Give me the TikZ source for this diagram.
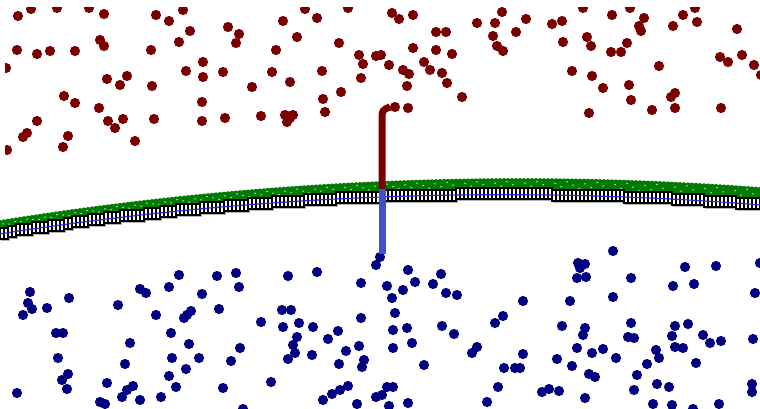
\documentclass[tikz,border=0pt]{standalone}
\usepackage{tikz}
\definecolor{ptred}{RGB}{122,0,0}
\definecolor{ptblue}{RGB}{0,0,128}
\definecolor{bandgreen}{RGB}{0,122,0}
\definecolor{vblue}{RGB}{64,80,208}
\definecolor{lineblue}{RGB}{40,40,230}
\tikzset{
  reddot/.style={fill=ptred},
  bluedot/.style={fill=ptblue},
  boxmark/.style={draw=black,fill=white,line width=1.2pt},
  boxshadow/.style={draw=gray!60,line width=1pt},
  redbar/.style={draw=ptred,line width=7pt,line join=round},
  bluebar/.style={draw=vblue,line width=7pt}
}
\begin{document}
\begin{tikzpicture}[x=1pt,y=-1pt]
\useasboundingbox (0,0) rectangle (760,409);
\fill[white] (0,0) rectangle (760,409);
\begin{scope}
\clip (5,8) rectangle (760,409);
\foreach \px/\py in {18/16,31/9,57/8,89/8,104/14,156/15,169/21,183/10,190/31,228/27,239/34,236/43,283/21,305/9,317/18,348/8,
17/50,37/54,50/51,75/51,100/40,104/46,151/50,179/42,203/62,186/71,203/77,223/72,276/50,297/37,339/43,359/55,376/56,363/64,6/68,
107/79,127/76,120/85,152/86,272/72,290/82,322/71,361/78,252/87,
64/96,75/103,99/108,108/121,115/128,123/119,154/119,202/102,202/121,225/118,261/116,285/115,290/118,293/115,287/122,323/99,325/112,341/92,
37/121,27/133,23/137,68/136,63/147,135/141,7/150,
392/13,399/19,413/15,502/12,477/23,495/23,526/19,552/24,562/21,583/8,612/15,630/8,644/18,639/26,641/31,683/15,695/8,697/22,673/26,737/29,
436/32,446/32,413/48,436/50,452/54,493/36,516/32,497/46,503/51,563/42,587/37,591/46,611/52,621/52,627/43,
381/55,389/65,403/70,409/74,424/62,430/70,442/73,407/86,447/83,462/97,572/71,592/76,603/88,629/85,631/100,659/66,675/93,671/97,675/108,652/110,589/113,721/108,720/57,728/62,742/55,754/65,761/75,
395/107,408/108}
  \fill[reddot] (\px,\py) circle (5.1);
\foreach \px/\py in {30/292,28/303,32/309,23/315,47/308,69/298,56/333,63/333,58/358,68/374,62/380,67/389,17/393,118/305,140/289,146/293,169/287,179/275,202/294,217/276,236/273,239/287,156/315,187/315,191/311,184/318,219/309,130/343,171/333,189/344,125/364,172/358,199/358,186/369,169/376,176/387,107/383,133/386,127/390,122/397,140/400,161/397,100/402,105/404,240/348,231/361,223/388,243/409,271/382,261/322,282/310,291/310,288/276,317/272,361/283,361/318,283/327,299/323,313/327,297/337,293/345,295/353,288/359,312/355,328/339,338/331,346/351,359/346,339/364,364/360,362/367,348/386,340/390,332/394,323/400,357/404,376/397,376/265,
613/251,578/263,585/264,580/268,577/278,586/277,631/278,613/297,570/301,685/267,716/266,673/286,694/284,755/293,760/263,408/270,441/274,415/282,433/284,387/286,403/290,392/298,446/293,457/295,523/301,395/313,393/330,407/328,412/343,393/348,442/326,454/334,424/365,503/316,495/323,477/347,472/353,523/354,504/368,515/368,520/368,498/387,487/402,562/326,585/328,583/335,577/348,592/353,603/349,616/358,557/359,572/366,589/374,595/377,542/392,549/389,559/391,585/398,631/323,628/337,634/338,656/350,659/358,647/364,637/375,634/390,657/384,669/387,653/404,672/405,675/326,688/324,672/336,675/347,683/348,703/335,710/343,721/341,696/363,753/339,752/384,752/392,719/404,387/387,393/387,382/395,389/406,408/403,380/257,693/409}
  \fill[bluedot] (\px,\py) circle (5.1);
\end{scope}
% band: green strip
\fill[bandgreen] plot[domain=0:760,samples=77] (\x,{179+1.55*((\x-520)/100)^2})
  -- plot[domain=760:0,samples=77] (\x,{179+1.55*((\x-520)/100)^2+8+\x/190}) -- cycle;
\foreach \x in {0,4,...,760}
  \fill[bandgreen] (\x,{179+1.55*((\x-520)/100)^2+1.2}) circle (2.2);
\foreach \x [count=\i] in {3,9,...,760}
  \fill[white] (\x,{179+1.55*((\x-520)/100)^2+2.5+mod(\i*7,5)*(0.5+\x/500)}) circle (0.75);
% boxes
\foreach \x in {0,8,...,752}{
  \pgfmathsetmacro\yt{2*round((179+1.55*((\x+4-520)/100)^2+7+\x/190)/2)}
  \draw[boxshadow] (\x+1.5,\yt+1.5) rectangle +(8,11);
  \draw[boxmark] (\x,\yt) rectangle +(8,11);
  \draw[black,line width=1.4pt] (\x+4,\yt) -- (\x+4,\yt+11);
}
\draw[lineblue,line width=1.1pt] plot[domain=0:760,samples=77] (\x,{179+1.55*((\x-520)/100)^2+13+\x/190});
% vertical bars
\coordinate (rtop) at (390,107);
\coordinate (rbot) at (382,189);
\coordinate (btop) at (382,189);
\coordinate (bbot) at (382,254);
\draw[redbar] (rtop) .. controls (382,110) .. (382,122) -- (rbot);
\draw[bluebar] (btop) -- (bbot);
\end{tikzpicture}
\end{document}
